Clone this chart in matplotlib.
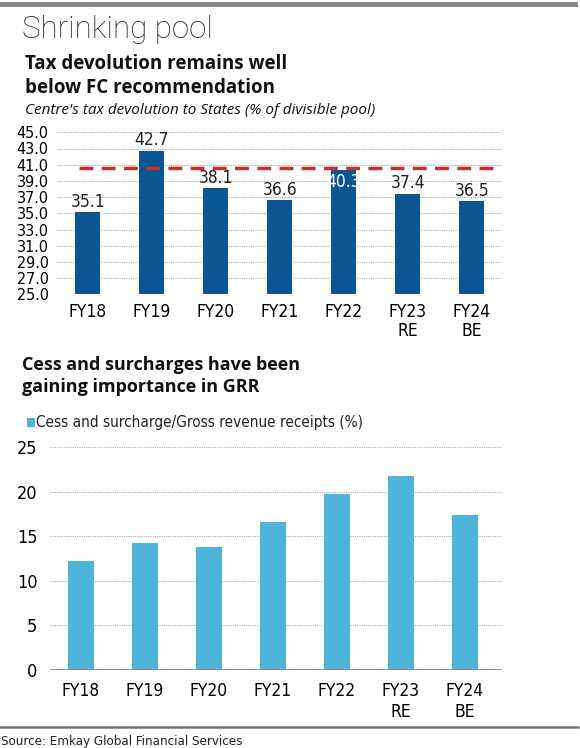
import numpy as np
import matplotlib.pyplot as plt
from matplotlib.lines import Line2D
from matplotlib.patches import Rectangle

# Datos
years = ['FY18', 'FY19', 'FY20', 'FY21', 'FY22', 'FY23\nRE', 'FY24\nBE']
devolution = [35.1, 42.7, 38.1, 36.6, 40.3, 37.4, 36.5]
fc_recommendation = 40.6
cess_share = [12.2, 14.3, 13.8, 16.6, 19.8, 21.8, 17.4]

dark_blue = '#0b5592'
light_blue = '#4fb4da'
red = '#c9302c'
head = ['Open Sans', 'DejaVu Sans']
NARROW = dict(family='DejaVu Sans', stretch='condensed')

W, H = 580, 748
fig = plt.figure(figsize=(W / 100, H / 100), dpi=100)

def px(x0, y_top, x1, y_bot):
    return [x0 / W, 1 - y_bot / H, (x1 - x0) / W, (y_bot - y_top) / H]

x = np.arange(len(years))

# Cabecera
fig.add_artist(Rectangle((0, 1 - 6.5 / H), 578 / W, 4.5 / H, transform=fig.transFigure,
                         color='#8a8a8a', lw=0))
fig.text(22 / W, 1 - 30 / H, 'Shrinking pool', fontsize=22.5, family=['Roboto', 'DejaVu Sans'],
         fontweight='light', va='center', ha='left', color='#222222')
fig.text(25 / W, 1 - 76 / H, 'Tax devolution remains well\nbelow FC recommendation',
         fontsize=13.5, family=head, fontweight='bold', va='center', ha='left',
         linespacing=1.3, color='#111111')
fig.text(25 / W, 1 - 110 / H, "Centre's tax devolution to States (% of divisible pool)",
         fontsize=11, family=head, style='italic', va='center', ha='left', color='#111111')

# Grafico superior
ax1 = fig.add_axes(px(57, 132.3, 502, 294.3))
ax1.bar(x, devolution, width=0.39, color=dark_blue, zorder=2)
ax1.axhline(fc_recommendation, color=red, lw=2.5, ls=(0, (4, 2.4)), zorder=3,
            xmin=0.05, xmax=0.98)
ax1.set_ylim(25, 45)
ax1.set_xlim(-0.48, 6.47)
ax1.set_yticks(np.arange(25, 46, 2))
ax1.set_yticklabels([f'{v:.1f}' for v in np.arange(25, 46, 2)], fontsize=11.5, **NARROW)
ax1.set_xticks(x)
ax1.set_xticklabels(years, fontsize=12.5, linespacing=1.1, **NARROW)
ax1.tick_params(length=0, pad=6)
ax1.tick_params(axis='y', pad=6)
ax1.grid(axis='y', ls=(0, (1, 1)), color='#aaaaaa', lw=0.8, zorder=0)
for s in ax1.spines.values():
    s.set_visible(False)
for i, v in enumerate(devolution):
    if v == 40.3:
        ax1.text(i, v - 0.35, f'{v}', ha='center', va='top', fontsize=12.5,
                 color='white', zorder=4, **NARROW)
    else:
        ax1.text(i, v + 0.2, f'{v}', ha='center', va='bottom', fontsize=12.5,
                 color='#222222', zorder=4, **NARROW)

# Segundo titulo
fig.text(22 / W, 1 - 376 / H, 'Cess and surcharges have been\ngaining importance in GRR',
         fontsize=13, family=head, fontweight='bold', va='center', ha='left',
         linespacing=1.3, color='#111111')
fig.add_artist(Rectangle((27 / W, 1 - 427 / H), 8 / W, 9 / H, transform=fig.transFigure,
                         color=light_blue, lw=0))
fig.text(36 / W, 1 - 422.5 / H, 'Cess and surcharge/Gross revenue receipts (%)',
         fontsize=11, va='center', ha='left', color='#222222', **NARROW)

# Grafico inferior
ax2 = fig.add_axes(px(50, 447.3, 502, 670))
ax2.bar(x, cess_share, width=0.4, color=light_blue, zorder=2)
ax2.set_ylim(0, 25)
ax2.set_xlim(-0.48, 6.58)
ax2.set_yticks(np.arange(0, 26, 5))
ax2.set_yticklabels([str(v) for v in range(0, 26, 5)], fontsize=13, **NARROW)
ax2.set_xticks(x)
ax2.set_xticklabels(years, fontsize=12.5, linespacing=1.15, **NARROW)
ax2.tick_params(length=0, pad=9)
ax2.grid(axis='y', ls=(0, (1, 1)), color='#aaaaaa', lw=0.8, zorder=0)
for s in ax2.spines.values():
    s.set_visible(False)
ax2.axhline(0, color='#888888', lw=1.3, zorder=3)

# Pie
fig.add_artist(Line2D([0, 578 / W], [1 - 727 / H] * 2, transform=fig.transFigure,
                      color='#777777', lw=1.8))
fig.text(1 / W, 1 - 741 / H, 'Source: Emkay Global Financial Services', fontsize=9.5,
         va='center', ha='left', color='#222222', **NARROW)

fig.savefig('out.png', dpi=100, facecolor='white')
